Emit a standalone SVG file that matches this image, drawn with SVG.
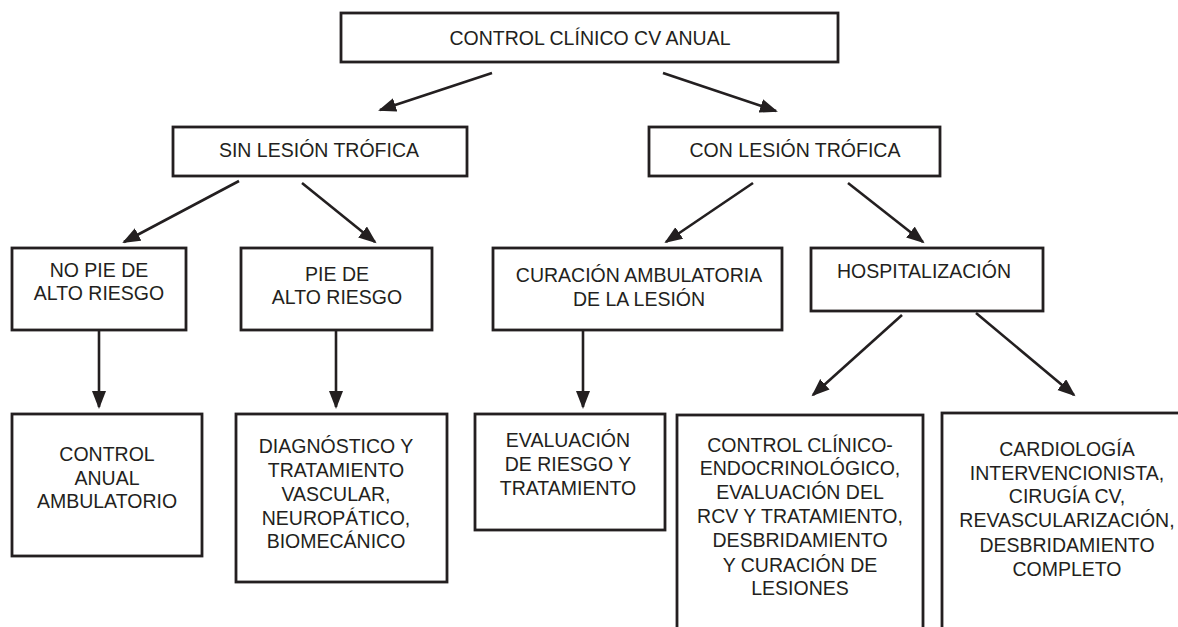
<svg xmlns="http://www.w3.org/2000/svg" width="1178" height="627" viewBox="0 0 1178 627">
<style>
.box{fill:#fff;stroke:#231f20;stroke-width:2.8}
.t{font-family:"Liberation Sans",Arial,sans-serif;font-size:19.5px;fill:#231f20;text-anchor:middle}
.c{stroke:#231f20;stroke-width:2.6;fill:none;marker-end:url(#ah)}
</style>
<defs>
<marker id="ah" markerUnits="userSpaceOnUse" markerWidth="20" markerHeight="16" refX="16" refY="7" orient="auto">
<path d="M0,0 L18,7 L0,14 z" fill="#231f20"/>
</marker>
</defs>
<rect width="1178" height="627" fill="#fff"/>
<g id="connectors">
<line class="c" x1="492" y1="73" x2="380" y2="110"/>
<line class="c" x1="663" y1="73" x2="776" y2="111"/>
<line class="c" x1="239" y1="181" x2="124" y2="242"/>
<line class="c" x1="302" y1="183" x2="375" y2="242"/>
<line class="c" x1="753" y1="183" x2="666" y2="242"/>
<line class="c" x1="848" y1="183" x2="923" y2="242"/>
<line class="c" x1="99" y1="330" x2="99" y2="407"/>
<line class="c" x1="336" y1="330" x2="336" y2="407"/>
<line class="c" x1="583" y1="330" x2="583" y2="407"/>
<line class="c" x1="902" y1="315" x2="813" y2="395"/>
<line class="c" x1="976" y1="313" x2="1074" y2="395"/>
</g>
<g id="n-control">
<rect class="box" x="341" y="13" width="497" height="49"/>
<text class="t" x="590" y="45">CONTROL CLÍNICO CV ANUAL</text>
</g>
<g id="n-sin">
<rect class="box" x="173" y="127" width="294" height="49"/>
<text class="t" x="319" y="157">SIN LESIÓN TRÓFICA</text>
</g>
<g id="n-con">
<rect class="box" x="649" y="127" width="291" height="49"/>
<text class="t" x="795" y="157">CON LESIÓN TRÓFICA</text>
</g>
<g id="n-nopie">
<rect class="box" x="12" y="248" width="174" height="82"/>
<text class="t" x="99" y="277">NO PIE DE</text>
<text class="t" x="99" y="300">ALTO RIESGO</text>
</g>
<g id="n-pie">
<rect class="box" x="241" y="248" width="191" height="82"/>
<text class="t" x="337" y="281">PIE DE</text>
<text class="t" x="337" y="304">ALTO RIESGO</text>
</g>
<g id="n-curacion">
<rect class="box" x="493" y="248" width="289" height="82"/>
<text class="t" x="639" y="282">CURACIÓN AMBULATORIA</text>
<text class="t" x="639" y="306">DE LA LESIÓN</text>
</g>
<g id="n-hosp">
<rect class="box" x="811" y="248" width="232" height="63"/>
<text class="t" x="924" y="278">HOSPITALIZACIÓN</text>
</g>
<g id="n-anual">
<rect class="box" x="12" y="414" width="190" height="142"/>
<text class="t" x="107" y="461">CONTROL</text>
<text class="t" x="107" y="485">ANUAL</text>
<text class="t" x="107" y="508">AMBULATORIO</text>
</g>
<g id="n-diag">
<rect class="box" x="236" y="414" width="211" height="168"/>
<text class="t" x="336" y="453">DIAGNÓSTICO Y</text>
<text class="t" x="336" y="477">TRATAMIENTO</text>
<text class="t" x="336" y="501">VASCULAR,</text>
<text class="t" x="336" y="525">NEUROPÁTICO,</text>
<text class="t" x="336" y="548">BIOMECÁNICO</text>
</g>
<g id="n-eval">
<rect class="box" x="475" y="414" width="190" height="116"/>
<text class="t" x="568" y="447">EVALUACIÓN</text>
<text class="t" x="568" y="471">DE RIESGO Y</text>
<text class="t" x="568" y="495">TRATAMIENTO</text>
</g>
<g id="n-clinico">
<rect class="box" x="677" y="415" width="246" height="240"/>
<text class="t" x="800" y="452">CONTROL CLÍNICO-</text>
<text class="t" x="800" y="475">ENDOCRINOLÓGICO,</text>
<text class="t" x="800" y="499">EVALUACIÓN DEL</text>
<text class="t" x="800" y="523">RCV Y TRATAMIENTO,</text>
<text class="t" x="800" y="547">DESBRIDAMIENTO</text>
<text class="t" x="800" y="572">Y CURACIÓN DE</text>
<text class="t" x="800" y="595">LESIONES</text>
</g>
<g id="n-cardio">
<rect class="box" x="942" y="413" width="260" height="240"/>
<text class="t" x="1067" y="456">CARDIOLOGÍA</text>
<text class="t" x="1067" y="480">INTERVENCIONISTA,</text>
<text class="t" x="1067" y="503">CIRUGÍA CV,</text>
<text class="t" x="1067" y="527">REVASCULARIZACIÓN,</text>
<text class="t" x="1067" y="552">DESBRIDAMIENTO</text>
<text class="t" x="1067" y="576">COMPLETO</text>
</g>
</svg>
